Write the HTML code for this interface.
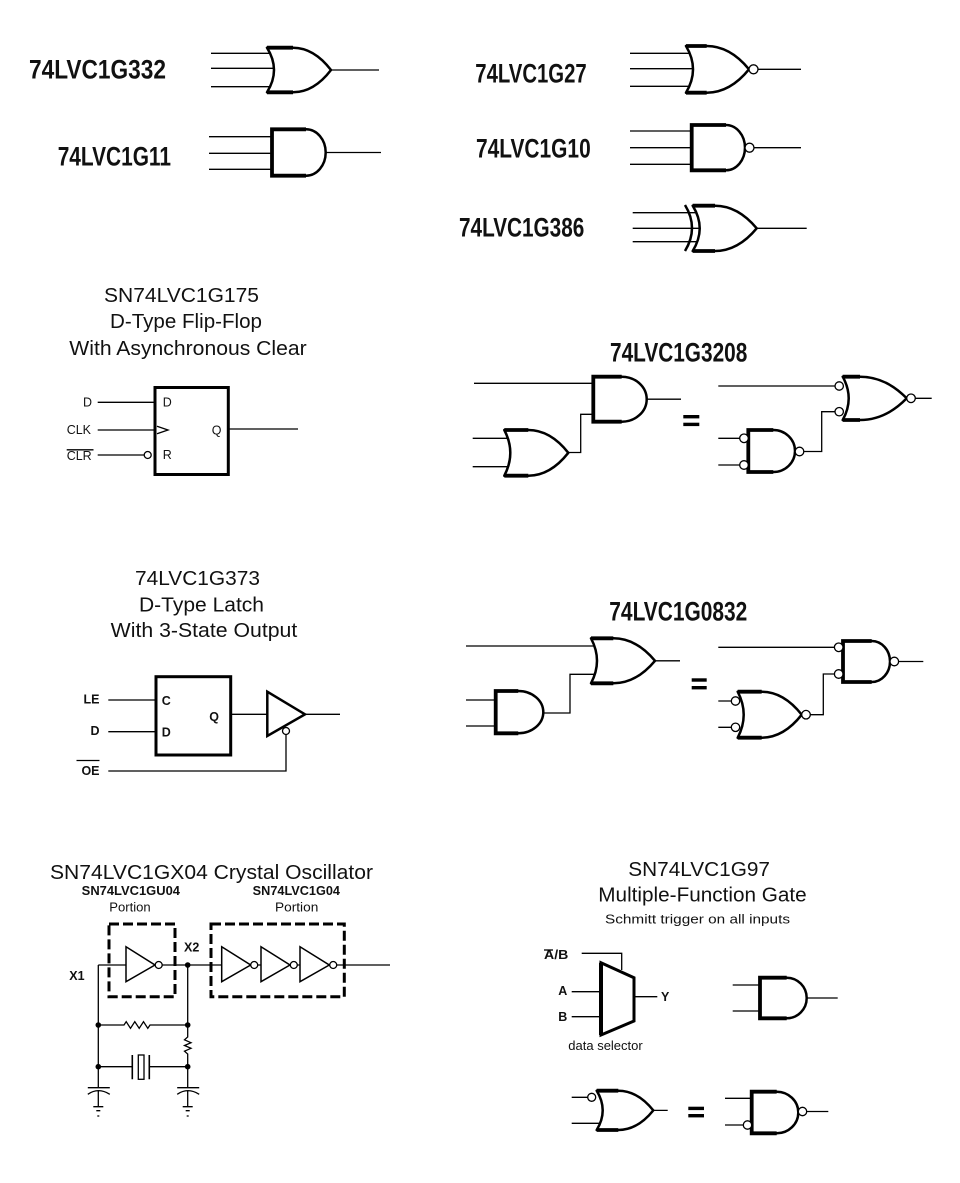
<!DOCTYPE html>
<html><head><meta charset="utf-8"><style>
html,body{margin:0;padding:0;background:#fff;}
svg{display:block}
.w{stroke:#000;stroke-width:1.3;fill:none}
.g{stroke:#000;stroke-width:2.5;fill:#fff;stroke-linejoin:round}
.t{stroke:#000;stroke-width:3.8;fill:none}
.b{stroke:#000;stroke-width:1.3;fill:#fff}
.h{font-family:"Liberation Sans",Arial,sans-serif;font-weight:bold;font-size:27px;fill:#111}
.r{font-family:"Liberation Sans",Arial,sans-serif;font-size:20.5px;fill:#111}
.s{font-family:"Liberation Sans",Arial,sans-serif;font-size:12.5px;fill:#111}
.sb{font-family:"Liberation Sans",Arial,sans-serif;font-size:12.5px;font-weight:bold;fill:#111}
</style></head><body>
<svg width="960" height="1183" viewBox="0 0 960 1183" xmlns="http://www.w3.org/2000/svg">
<rect width="960" height="1183" fill="#fff"/>

<!-- 74LVC1G332 -->
<text class="h" x="29" y="78.3" textLength="137" lengthAdjust="spacingAndGlyphs">74LVC1G332</text>
<path class="w" d="M211,53.3H272 M211,68.3H276 M211,86.7H272 M331,70H379"/>
<path class="g" d="M267,47.7 L293,47.7 Q313.9,47.7 331,70 Q313.9,92.3 293,92.3 L267,92.3 Q281,70 267,47.7 Z"/>
<path class="t" d="M267,47.7 H293 M267,92.3 H293"/>

<!-- 74LVC1G11 -->
<text class="h" x="57.7" y="165.7" textLength="113.3" lengthAdjust="spacingAndGlyphs">74LVC1G11</text>
<path class="w" d="M209,136.7H272 M209,153.3H272 M209,169.3H272 M325.7,152.5H381"/>
<path class="g" d="M272,129.3 L306,129.3 A19.7,23.2 0 0 1 306,175.7 L272,175.7 Z"/>
<path class="t" d="M306,129.3 L272,129.3 L272,175.7 L306,175.7"/>

<!-- 74LVC1G27 -->
<text class="h" x="475.3" y="82.7" textLength="111.4" lengthAdjust="spacingAndGlyphs">74LVC1G27</text>
<path class="w" d="M630,53.3H692 M630,68.7H694 M630,86.3H692 M758,69.3H801"/>
<path class="g" d="M686,46 L706.7,46 Q730,46 749,69.3 Q730,92.7 706.7,92.7 L686,92.7 Q700,69.3 686,46 Z"/>
<path class="t" d="M686,46 H706.7 M686,92.7 H706.7"/>
<circle class="b" cx="753.5" cy="69.3" r="4.5"/>

<!-- 74LVC1G10 -->
<text class="h" x="476" y="157.7" textLength="114.7" lengthAdjust="spacingAndGlyphs">74LVC1G10</text>
<path class="w" d="M630,131H692 M630,147.7H692 M630,164.3H692 M754,147.7H801"/>
<path class="g" d="M691.7,125 L726,125 A19,22.65 0 0 1 726,170.3 L691.7,170.3 Z"/>
<path class="t" d="M726,125 L691.7,125 L691.7,170.3 L726,170.3"/>
<circle class="b" cx="749.5" cy="147.7" r="4.5"/>

<!-- 74LVC1G386 -->
<text class="h" x="459" y="236.7" textLength="125.3" lengthAdjust="spacingAndGlyphs">74LVC1G386</text>
<path class="w" d="M632.7,212.7H697 M632.7,228.3H699 M632.7,241.7H697 M756.7,228.3H806.7"/>
<path d="M685,205 Q699,228 685,251" stroke="#000" stroke-width="2.5" fill="none"/>
<path class="g" d="M692.7,205.7 L715,205.7 Q737.9,205.7 756.7,228.3 Q737.9,251 715,251 L692.7,251 Q706.7,228.3 692.7,205.7 Z"/>
<path class="t" d="M692.7,205.7 H715 M692.7,251 H715"/>

<!-- SN74LVC1G175 -->
<text class="r" x="104" y="302" textLength="155" lengthAdjust="spacingAndGlyphs">SN74LVC1G175</text>
<text class="r" x="110" y="328" textLength="152" lengthAdjust="spacingAndGlyphs">D-Type Flip-Flop</text>
<text class="r" x="69.3" y="355" textLength="237.4" lengthAdjust="spacingAndGlyphs">With Asynchronous Clear</text>
<rect x="155" y="387.5" width="73.3" height="87" fill="#fff" stroke="#000" stroke-width="3"/>
<path class="w" d="M97.7,402.3H155 M97.7,430H155 M97.7,455H144.2 M228.3,429H298"/>
<circle class="b" cx="147.7" cy="455" r="3.5"/>
<path class="w" d="M157,426.3 L168,430 L157,433.7"/>
<text class="s" x="83" y="406.7">D</text>
<text class="s" x="66.7" y="434">CLK</text>
<text class="s" x="66.7" y="460">CLR</text>
<path class="w" d="M66.7,449.8H93.5"/>
<text class="s" x="162.7" y="406.7">D</text>
<text class="s" x="162.7" y="459">R</text>
<text class="s" x="211.7" y="434.3">Q</text>

<!-- 74LVC1G3208 -->
<text class="h" x="610" y="361.7" textLength="137.3" lengthAdjust="spacingAndGlyphs">74LVC1G3208</text>
<path class="w" d="M474,383.3H596 M646.7,399.2H681 M568.3,452.5H580.7V414.3H596 M472.7,438.3H510 M472.7,466.7H510"/>
<path class="g" d="M593.3,376.7 L621.7,376.7 A25,22.5 0 0 1 621.7,421.7 L593.3,421.7 Z"/>
<path class="t" d="M621.7,376.7 L593.3,376.7 L593.3,421.7 L621.7,421.7"/>
<path class="g" d="M504.3,430 L528.3,430 Q550.3,430 568.3,452.8 Q550.3,475.7 528.3,475.7 L504.3,475.7 Q516.3,452.8 504.3,430 Z"/>
<path class="t" d="M504.3,430 H528.3 M504.3,475.7 H528.3"/>
<rect x="683.3" y="415" width="16" height="3.4" fill="#000"/>
<rect x="683.3" y="422.7" width="16" height="3.4" fill="#000"/>
<path class="w" d="M718.3,386H835 M915.3,398.3H931.7 M803.8,451.5H821.7V411.7H835 M718.3,438.3H739.7 M718.3,465H739.7"/>
<path class="g" d="M842.7,376.7 L860,376.7 Q885.7,376.7 906.7,398.3 Q885.7,420 860,420 L842.7,420 Q854.7,398.3 842.7,376.7 Z"/>
<path class="t" d="M842.7,376.7 H860 M842.7,420 H860"/>
<circle class="b" cx="839.2" cy="386" r="4.2"/>
<circle class="b" cx="839.2" cy="411.7" r="4.2"/>
<circle class="b" cx="911" cy="398.3" r="4.3"/>
<path class="g" d="M748.3,430 L773.3,430 A21.7,21 0 0 1 773.3,472 L748.3,472 Z"/>
<path class="t" d="M773.3,430 L748.3,430 L748.3,472 L773.3,472"/>
<circle class="b" cx="799.5" cy="451.5" r="4.3"/>
<circle class="b" cx="744" cy="438.3" r="4.3"/>
<circle class="b" cx="744" cy="465" r="4.3"/>

<!-- 74LVC1G373 -->
<text class="r" x="135" y="585" textLength="125" lengthAdjust="spacingAndGlyphs">74LVC1G373</text>
<text class="r" x="139" y="611.7" textLength="125" lengthAdjust="spacingAndGlyphs">D-Type Latch</text>
<text class="r" x="110.7" y="637" textLength="186.6" lengthAdjust="spacingAndGlyphs">With 3-State Output</text>
<rect x="156" y="676.7" width="74.7" height="78.3" fill="#fff" stroke="#000" stroke-width="3"/>
<path class="w" d="M108.3,700H156 M108.3,731.7H156 M108.3,771H286V734.5 M230.7,714.3H267.3 M305,714.3H340"/>
<path d="M267.3,691.7 L305,714.3 L267.3,736 Z" fill="#fff" stroke="#000" stroke-width="2.5" stroke-linejoin="miter"/>
<circle class="b" cx="286" cy="731" r="3.5"/>
<text class="sb" x="99.5" y="703.3" text-anchor="end">LE</text>
<text class="sb" x="99.5" y="735" text-anchor="end">D</text>
<text class="sb" x="99.5" y="775" text-anchor="end">OE</text>
<path class="w" d="M76.5,760.5H99.5"/>
<text class="sb" x="161.7" y="705">C</text>
<text class="sb" x="161.7" y="736.7">D</text>
<text class="sb" x="209.3" y="721">Q</text>

<!-- 74LVC1G0832 -->
<text class="h" x="609.3" y="620.7" textLength="138" lengthAdjust="spacingAndGlyphs">74LVC1G0832</text>
<path class="w" d="M466,646H596 M655,660.8H680 M543.3,713H570V674.3H596 M466,700H495.7 M466,726H495.7"/>
<path class="g" d="M591,638.3 L613.3,638.3 Q636.2,638.3 655,660.8 Q636.2,683.3 613.3,683.3 L591,683.3 Q603,660.8 591,638.3 Z"/>
<path class="t" d="M591,638.3 H613.3 M591,683.3 H613.3"/>
<path class="g" d="M495.7,691 L518.3,691 A25,21.15 0 0 1 518.3,733.3 L495.7,733.3 Z"/>
<path class="t" d="M518.3,691 L495.7,691 L495.7,733.3 L518.3,733.3"/>
<rect x="691.7" y="678.3" width="15" height="3.4" fill="#000"/>
<rect x="691.7" y="686" width="15" height="3.4" fill="#000"/>
<path class="w" d="M718.3,647.3H834.4 M898.6,661.5H923.3 M810.3,714.7H823.3V674H834.4 M718.3,701H731.3 M718.3,727.3H731.3"/>
<path class="g" d="M843,641 L871.7,641 A18.3,20.5 0 0 1 871.7,682 L843,682 Z"/>
<path class="t" d="M871.7,641 L843,641 L843,682 L871.7,682"/>
<circle class="b" cx="838.7" cy="647.3" r="4.3"/>
<circle class="b" cx="838.7" cy="674" r="4.3"/>
<circle class="b" cx="894.3" cy="661.5" r="4.3"/>
<path class="g" d="M737.7,691.7 L761.7,691.7 Q783.7,691.7 801.7,714.7 Q783.7,737.7 761.7,737.7 L737.7,737.7 Q749.7,714.7 737.7,691.7 Z"/>
<path class="t" d="M737.7,691.7 H761.7 M737.7,737.7 H761.7"/>
<circle class="b" cx="806" cy="714.7" r="4.3"/>
<circle class="b" cx="735.5" cy="701" r="4.2"/>
<circle class="b" cx="735.5" cy="727.3" r="4.2"/>

<!-- SN74LVC1GX04 Crystal Oscillator -->
<text class="r" x="50" y="879" textLength="323" lengthAdjust="spacingAndGlyphs">SN74LVC1GX04 Crystal Oscillator</text>
<text class="sb" x="81.7" y="895" font-size="13" textLength="98.3" lengthAdjust="spacingAndGlyphs">SN74LVC1GU04</text>
<text class="s" x="109.3" y="911.5" font-size="13" textLength="41.4" lengthAdjust="spacingAndGlyphs">Portion</text>
<text class="sb" x="252.7" y="895" font-size="13" textLength="87.3" lengthAdjust="spacingAndGlyphs">SN74LVC1G04</text>
<text class="s" x="275" y="911.5" font-size="13" textLength="43.3" lengthAdjust="spacingAndGlyphs">Portion</text>
<rect x="109" y="924" width="66" height="72.7" fill="none" stroke="#000" stroke-width="3" stroke-dasharray="10 4"/>
<rect x="211" y="924" width="133.3" height="72.7" fill="none" stroke="#000" stroke-width="3" stroke-dasharray="10 4"/>
<text class="sb" x="69.3" y="980" font-size="12">X1</text>
<text class="sb" x="184" y="951.7" font-size="12">X2</text>
<path class="w" d="M98.3,965H126 M98.3,965V1087.7 M162.2,965H221.7 M257.7,965H261 M297.5,965H300 M336.8,965H390"/>
<path class="w" d="M187.7,965V1037 L184.5,1039.8 L191,1042.7 L184.5,1045.5 L191,1048.3 L184.5,1051.2 L187.7,1054 V1087.7"/>
<path class="w" d="M98.3,1025H124 L126.2,1021.7 L130.5,1028.3 L134.8,1021.7 L139.2,1028.3 L143.5,1021.7 L147.8,1028.3 L150,1025 H187.7"/>
<path class="w" d="M98.3,1066.7H132.3 M149.3,1066.7H187.7"/>
<path stroke="#000" stroke-width="1.6" fill="none" d="M132.3,1055V1079.3 M149.3,1055V1079.3"/>
<rect x="138.3" y="1055" width="5.7" height="24.3" fill="none" stroke="#000" stroke-width="1.3"/>
<g stroke="#000" stroke-width="1.3" fill="none">
<path d="M87.8,1087.7H109.8 M87.8,1094.3 Q98.3,1087 109.8,1094.3 M98.3,1090.7V1106.7 M93.3,1106.7H103.3 M96.3,1110.7H100.3 M97.3,1116H99.3"/>
<path d="M177.2,1087.7H199.2 M177.2,1094.3 Q187.7,1087 199.2,1094.3 M187.7,1090.7V1106.7 M182.7,1106.7H192.7 M185.7,1110.7H189.7 M186.7,1116H188.7"/>
</g>
<g fill="#000">
<circle cx="187.7" cy="965" r="2.8"/>
<circle cx="98.3" cy="1025" r="2.8"/>
<circle cx="187.7" cy="1025" r="2.8"/>
<circle cx="98.3" cy="1066.7" r="2.8"/>
<circle cx="187.7" cy="1066.7" r="2.8"/>
</g>
<g fill="#fff" stroke="#000" stroke-width="1.5" stroke-linejoin="miter">
<path d="M126,946.7 L155,965 L126,981.7 Z"/>
<path d="M221.7,946.7 L250.7,965 L221.7,981.7 Z"/>
<path d="M261,946.7 L290,965 L261,981.7 Z"/>
<path d="M300,946.7 L329.3,965 L300,981.7 Z"/>
</g>
<circle class="b" cx="158.7" cy="965" r="3.5"/>
<circle class="b" cx="254.2" cy="965" r="3.5"/>
<circle class="b" cx="293.8" cy="965" r="3.5"/>
<circle class="b" cx="333.2" cy="965" r="3.5"/>

<!-- SN74LVC1G97 -->
<text class="r" x="628.3" y="876" textLength="141.7" lengthAdjust="spacingAndGlyphs">SN74LVC1G97</text>
<text class="r" x="598.3" y="901.7" textLength="208.4" lengthAdjust="spacingAndGlyphs">Multiple-Function Gate</text>
<text class="s" x="605" y="923.3" font-size="15" textLength="185" lengthAdjust="spacingAndGlyphs">Schmitt trigger on all inputs</text>
<text class="sb" x="544" y="959" font-size="12.5" textLength="24.3" lengthAdjust="spacingAndGlyphs">A/B</text>
<path class="w" d="M544,950H553"/>
<path class="w" d="M581.7,953.3H621.7V970 M571.7,991.7H601 M571.7,1016.7H601 M634,996.7H657.3"/>
<path d="M601,962.7 L634,977.7 L634,1021 L601,1035 Z" fill="#fff" stroke="#000" stroke-width="3" stroke-linejoin="miter"/>
<path d="M601,962.7 V1035" stroke="#000" stroke-width="4"/>
<text class="sb" x="558.3" y="995">A</text>
<text class="sb" x="558.3" y="1021">B</text>
<text class="sb" x="661" y="1001">Y</text>
<text class="s" x="568.3" y="1050" font-size="13" textLength="74.4" lengthAdjust="spacingAndGlyphs">data selector</text>
<path class="w" d="M732.7,985H760 M732.7,1011H760 M806.7,998H837.7"/>
<path class="g" d="M760,977.7 L786.7,977.7 A20,20.3 0 0 1 786.7,1018.3 L760,1018.3 Z"/>
<path class="t" d="M786.7,977.7 L760,977.7 L760,1018.3 L786.7,1018.3"/>
<path class="w" d="M571.7,1097.3H587.7 M571.7,1123.3H601 M653.3,1110.4H667.7"/>
<path class="g" d="M596.7,1090.7 L618.3,1090.7 Q637.6,1090.7 653.3,1110.4 Q637.6,1130 618.3,1130 L596.7,1130 Q608.7,1110.4 596.7,1090.7 Z"/>
<path class="t" d="M596.7,1090.7 H618.3 M596.7,1130 H618.3"/>
<circle class="b" cx="591.7" cy="1097.3" r="4"/>
<rect x="688.3" y="1106.7" width="15.7" height="3.4" fill="#000"/>
<rect x="688.3" y="1114" width="15.7" height="3.4" fill="#000"/>
<path class="w" d="M725,1098.3H751.7 M725,1125H743.3 M806.7,1111.5H828.3"/>
<path class="g" d="M751.7,1091.7 L776.7,1091.7 A21.6,20.8 0 0 1 776.7,1133.3 L751.7,1133.3 Z"/>
<path class="t" d="M776.7,1091.7 L751.7,1091.7 L751.7,1133.3 L776.7,1133.3"/>
<circle class="b" cx="802.5" cy="1111.5" r="4.2"/>
<circle class="b" cx="747.5" cy="1125" r="4.2"/>
</svg>
</body></html>
